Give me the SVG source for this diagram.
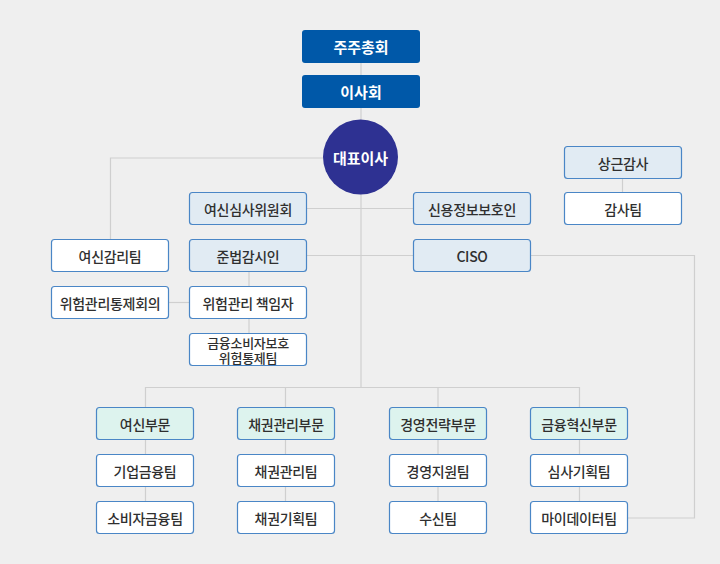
<svg xmlns="http://www.w3.org/2000/svg" width="720" height="564" viewBox="0 0 720 564">
<style>
.bg{fill:#efefef}
.ln{fill:none;stroke:#cfcfcf;stroke-width:1.2}
.top{fill:#0058a8}
.b{fill:#e1ebf3;stroke:#4a86c6;stroke-width:1.2}
.g{fill:#ddf3ee;stroke:#4a86c6;stroke-width:1.2}
.w{fill:#ffffff;stroke:#4a86c6;stroke-width:1.2}
text{font-family:"Noto Sans CJK KR","Noto Sans",sans-serif;font-size:14px;font-weight:500;fill:#2f2f2f;text-anchor:middle;dominant-baseline:central;letter-spacing:-0.3px}
.wt{fill:#ffffff;font-weight:bold;font-size:15px;letter-spacing:0}
.sm{font-size:13px}
</style>
<rect class="bg" x="0" y="0" width="720" height="564"/>
<g id="connectors">
<path class="ln" d="M361 63V75M361 108V387"/>
<path class="ln" d="M323 158H110.5V239"/>
<path class="ln" d="M307 208.5H413"/>
<path class="ln" d="M307 255.5H413"/>
<path class="ln" d="M530 255.5H694.5V518H627"/>
<path class="ln" d="M249 271V333"/>
<path class="ln" d="M168 302.5H189"/>
<path class="ln" d="M622.5 178V192"/>
<path class="ln" d="M145.5 407V387.5H579.5V407"/>
<path class="ln" d="M285.5 387.5V407M438 387.5V407"/>
<path class="ln" d="M145.5 439V501M285.5 439V501M438 439V501M579.5 439V501"/>
</g>
<g id="n-shareholders"><rect class="top" x="302" y="30" width="118" height="33" rx="3"/><text class="wt" x="361" y="46.5">주주총회</text></g>
<g id="n-board"><rect class="top" x="302" y="75" width="118" height="33" rx="3"/><text class="wt" x="361" y="91.5">이사회</text></g>
<g id="n-ceo"><circle cx="360.5" cy="157" r="37.5" fill="#2e3192"/><text class="wt" x="360.5" y="157">대표이사</text></g>
<g id="n-credit-committee"><rect class="b" x="189.5" y="192.5" width="117" height="32" rx="3"/><text x="248" y="208.5">여신심사위원회</text></g>
<g id="n-credit-info"><rect class="b" x="413.5" y="192.5" width="117" height="32" rx="3"/><text x="472" y="208.5">신용정보보호인</text></g>
<g id="n-audit"><rect class="b" x="564.5" y="146.5" width="117" height="32" rx="3"/><text x="623" y="162.5">상근감사</text></g>
<g id="n-audit-team"><rect class="w" x="564.5" y="192.5" width="117" height="32" rx="3"/><text x="623" y="208.5">감사팀</text></g>
<g id="n-credit-review"><rect class="w" x="51.5" y="239.5" width="117" height="32" rx="3"/><text x="110" y="255.5">여신감리팀</text></g>
<g id="n-compliance"><rect class="b" x="189.5" y="239.5" width="117" height="32" rx="3"/><text x="248" y="255.5">준법감시인</text></g>
<g id="n-ciso"><rect class="b" x="413.5" y="239.5" width="117" height="32" rx="3"/><text x="472" y="255.5">CISO</text></g>
<g id="n-risk-council"><rect class="w" x="51.5" y="286.5" width="117" height="32" rx="3"/><text x="110" y="302.5">위험관리통제회의</text></g>
<g id="n-risk-officer"><rect class="w" x="189.5" y="286.5" width="117" height="32" rx="3"/><text x="248" y="302.5">위험관리 책임자</text></g>
<g id="n-consumer"><rect class="w" x="189.5" y="333.5" width="117" height="32" rx="3"/><text class="sm"><tspan x="248" y="342">금융소비자보호</tspan><tspan x="248" y="356.5">위험통제팀</tspan></text></g>
<g id="n-div-credit"><rect class="g" x="96.5" y="407.5" width="97" height="32" rx="3"/><text x="145" y="423.5">여신부문</text></g>
<g id="n-div-bond"><rect class="g" x="237.5" y="407.5" width="97" height="32" rx="3"/><text x="286" y="423.5">채권관리부문</text></g>
<g id="n-div-strategy"><rect class="g" x="389.5" y="407.5" width="97" height="32" rx="3"/><text x="438" y="423.5">경영전략부문</text></g>
<g id="n-div-innov"><rect class="g" x="530.5" y="407.5" width="97" height="32" rx="3"/><text x="579" y="423.5">금융혁신부문</text></g>
<g id="n-corp-fin"><rect class="w" x="96.5" y="454.5" width="97" height="32" rx="3"/><text x="145" y="470.5">기업금융팀</text></g>
<g id="n-bond-mgmt"><rect class="w" x="237.5" y="454.5" width="97" height="32" rx="3"/><text x="286" y="470.5">채권관리팀</text></g>
<g id="n-mgmt-support"><rect class="w" x="389.5" y="454.5" width="97" height="32" rx="3"/><text x="438" y="470.5">경영지원팀</text></g>
<g id="n-review-plan"><rect class="w" x="530.5" y="454.5" width="97" height="32" rx="3"/><text x="579" y="470.5">심사기획팀</text></g>
<g id="n-consumer-fin"><rect class="w" x="96.5" y="501.5" width="97" height="32" rx="3"/><text x="145" y="517.5">소비자금융팀</text></g>
<g id="n-bond-plan"><rect class="w" x="237.5" y="501.5" width="97" height="32" rx="3"/><text x="286" y="517.5">채권기획팀</text></g>
<g id="n-deposit"><rect class="w" x="389.5" y="501.5" width="97" height="32" rx="3"/><text x="438" y="517.5">수신팀</text></g>
<g id="n-mydata"><rect class="w" x="530.5" y="501.5" width="97" height="32" rx="3"/><text x="579" y="517.5">마이데이터팀</text></g>
</svg>
